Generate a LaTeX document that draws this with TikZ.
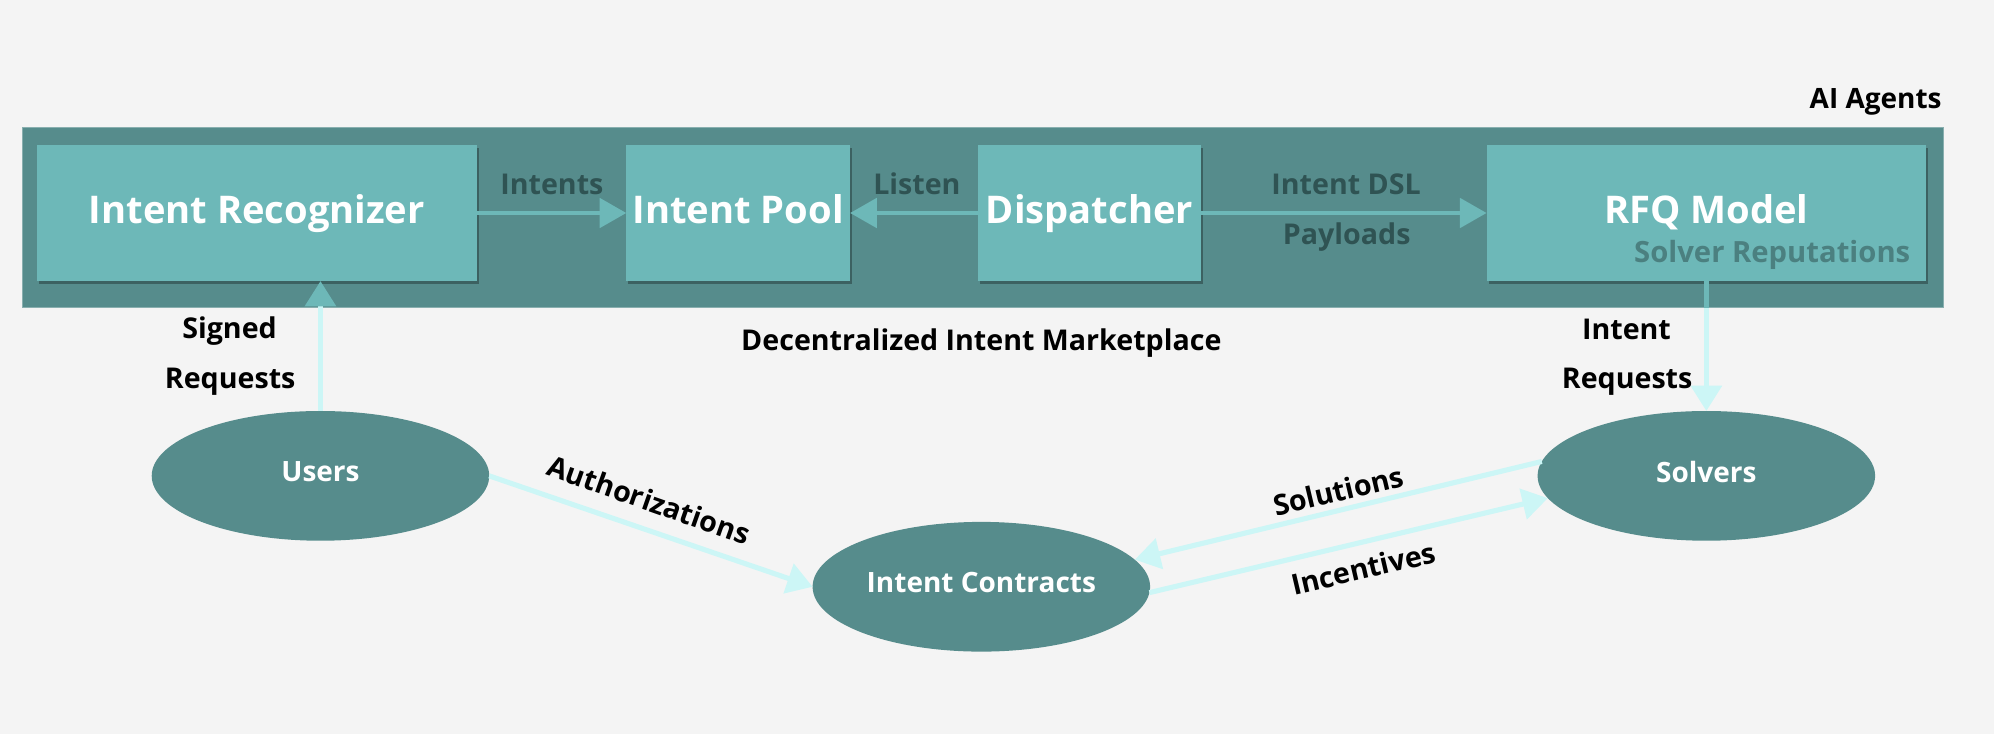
\documentclass[tikz,border=0pt]{standalone}
\usepackage{fontspec}
\setmainfont{Open Sans}
\usetikzlibrary{arrows.meta,shapes.geometric,shadows,calc}
\definecolor{bgcol}{HTML}{F4F4F4}
\definecolor{outercol}{HTML}{568C8C}
\definecolor{boxcol}{HTML}{6DB8B8}
\definecolor{cyancol}{HTML}{CCF6F6}
\definecolor{darklbl}{HTML}{2F5353}
\definecolor{repcol}{HTML}{4B8080}
\begin{document}
\begin{tikzpicture}[x=1pt,y=-1pt,
  box/.style={fill=boxcol, minimum height=107pt, inner sep=0pt, outer sep=0pt, text=white,
    font=\bfseries\fontsize{30}{34}\selectfont, text depth=7pt,
    drop shadow={shadow xshift=1.5pt, shadow yshift=-2.5pt, opacity=0.3, fill=black}},
  ell/.style={ellipse, fill=outercol, minimum width=265.4pt, minimum height=102pt, inner sep=0pt,
    outer sep=0pt, text=white, font=\bfseries\fontsize{22}{26}\selectfont, text depth=7pt},
  inarrow/.style={draw=boxcol, line width=3.4pt, -{Triangle[length=21pt,width=23pt]}},
  outarrow/.style={draw=cyancol, line width=4pt, -{Triangle[length=20pt,width=24pt]}},
  lbl/.style={font=\bfseries\fontsize{22.5}{26}\selectfont, text=black, anchor=base, inner sep=0pt},
  inlbl/.style={font=\bfseries\fontsize{22.5}{26}\selectfont, text=darklbl, anchor=base, inner sep=0pt},
]
\fill[bgcol] (0,0) rectangle (1568,577);
\useasboundingbox (0,0) rectangle (1568,577);

% outer container
\node[fill=outercol, draw=outercol!70!white, line width=0.8pt, minimum width=1510pt, minimum height=141.6pt,
  inner sep=0pt, outer sep=0pt] (agents) at (773,171.2) {};
\node[lbl, anchor=base east, font=\bfseries\fontsize{22}{26}\selectfont] (aiag) at (1527,85.2) {AI Agents};

% boxes
\node[box, minimum width=346pt] (rec) at (202,167.5) {Intent Recognizer};
\node[box, minimum width=176pt] (pool) at (580.5,167.5) {Intent Pool};
\node[box, minimum width=175.4pt] (disp) at (856.7,167.5) {Dispatcher};
\node[box, minimum width=345.6pt] (rfq) at (1341.8,167.5) {RFQ Model};
\node[inlbl, text=repcol, font=\bfseries\fontsize{23}{26}\selectfont] (rep) at (1393.6,206.5) {Solver Reputations};

% inner arrows
\draw[inarrow] (rec.east) -- (pool.west);
\draw[inarrow] (disp.west) -- (pool.east);
\draw[inarrow] (disp.east) -- (rfq.west);
\node[inlbl] (lintents) at (434,153.3) {Intents};
\node[inlbl] (llisten) at (721,152.8) {Listen};
\node[inlbl] (ldsl) at (1058.5,153.3) {Intent DSL};
\node[inlbl] (lpay) at (1059,191.9) {Payloads};

% ellipses
\node[ell] (users) at (252,374.2) {Users};
\node[ell] (contracts) at (771.7,461.4) {Intent Contracts};
\node[ell] (solvers) at (1341.8,374.2) {Solvers};

% vertical connectors
\draw[outarrow, -{Triangle[length=20pt,width=24pt,color=boxcol]}] (users.north) -- (users.north |- rec.south);
\draw[outarrow] (rfq.south) -- (solvers.north);
\draw[draw=boxcol, line width=4pt] (rfq.south) -- (rfq.south |- agents.south);
\node[lbl] (lsig1) at (180.5,266) {Signed};
\node[lbl] (lsig2) at (181,305.4) {Requests};
\node[lbl] (lreq1) at (1279,266.6) {Intent};
\node[lbl] (lreq2) at (1279.5,305.4) {Requests};
\node[lbl] (lmarket) at (771.7,275.8) {Decentralized Intent Marketplace};

% diagonal connectors
\draw[outarrow] (users.east) -- (contracts.west);
\draw[outarrow] (solvers.175) -- (contracts.10);
\draw[outarrow] (contracts.-2) -- (solvers.188);
\node[lbl, anchor=center, rotate=-19.4] (lauth) at (510.4,393.2) {Authorizations};
\node[lbl, anchor=center, rotate=13.4] (lsol) at (1052.4,385.9) {Solutions};
\node[lbl, anchor=center, rotate=13.2] (linc) at (1072,446.9) {Incentives};
\end{tikzpicture}
\end{document}
